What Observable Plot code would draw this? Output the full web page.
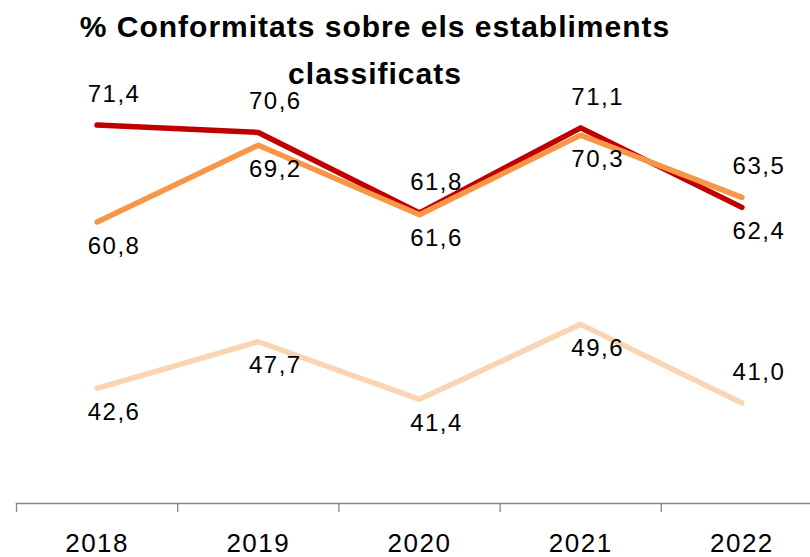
<!DOCTYPE html>
<html>
<head>
<meta charset="utf-8">
<script src="https://cdn.jsdelivr.net/npm/d3@7"></script>
<script src="https://cdn.jsdelivr.net/npm/@observablehq/plot@0.6"></script>
<style>
  html, body { margin: 0; padding: 0; background: #fff; overflow: hidden; }
  #wrap { position: relative; width: 810px; height: 557px; font-family: "Liberation Sans", Arial, sans-serif; }
  #title { position: absolute; left: 0; top: 4px; width: 750px; text-align: center; font-weight: bold; font-size: 30px; line-height: 46.5px; letter-spacing: 1px; color: #000; z-index: 2; }
  #chart { position: absolute; left: 0; top: 0; }
  #chart svg text { letter-spacing: 1.5px; }
</style>
</head>
<body>
<div id="wrap">
  <div id="chart"></div>
  <div id="title">% Conformitats sobre els establiments<br>classificats</div>
</div>
<script>
// ---- data ----
const years = [2018, 2019, 2020, 2021, 2022];
const tickBounds = [2017.5, 2018.5, 2019.5, 2020.5, 2021.5, 2022.5];
const seriesNames = ["Sèrie 1", "Sèrie 2", "Sèrie 3"];
const seriesColors = ["#C00000", "#F79646", "#FAD5B4"];
const valuesSerie1 = [71.4, 70.6, 61.8, 71.1, 62.4];
const valuesSerie2 = [60.8, 69.2, 61.6, 70.3, 63.5];
const valuesSerie3 = [42.6, 47.7, 41.4, 49.6, 41.0];
const labelSide1 = ["above", "above", "above", "above", "below"];
const labelSide2 = ["below", "below", "below", "below", "above"];
const labelSide3 = ["below", "below", "below", "below", "above"];
const yDomain = [30, 80];

// ---- table (drawing order: light, dark red, orange on top) ----
const seriesValues = [valuesSerie1, valuesSerie2, valuesSerie3];
const seriesSides = [labelSide1, labelSide2, labelSide3];
const drawOrder = [2, 0, 1];
const rows = [];
for (const s of drawOrder) {
  years.forEach((yr, i) => rows.push({year: yr, value: seriesValues[s][i], series: seriesNames[s], side: seriesSides[s][i]}));
}
const fmt = d => d.value.toFixed(1).replace(".", ",");

const chart = Plot.plot({
  width: 810,
  height: 557,
  marginLeft: 16,
  marginRight: -12,
  marginTop: 46,
  marginBottom: 54,
  style: {fontFamily: "'Liberation Sans', Arial, sans-serif", background: "#fff", color: "#000"},
  x: {domain: [tickBounds[0], tickBounds[tickBounds.length - 1]], label: null},
  y: {domain: yDomain, axis: null},
  color: {domain: seriesNames, range: seriesColors},
  marks: [
    Plot.frame({anchor: "bottom", stroke: "#868686", strokeWidth: 1.3}),
    Plot.axisX({ticks: tickBounds, tickSize: 9, tickFormat: () => "", stroke: "#868686", strokeWidth: 1.3, label: null}),
    Plot.axisX({ticks: years, tickSize: 0, tickPadding: 30, fontSize: 26, tickFormat: d => String(d), label: null}),
    Plot.line(rows, {x: "year", y: "value", z: "series", stroke: "series", strokeWidth: 5.5, strokeLinecap: "round", strokeLinejoin: "round"}),
    Plot.text(rows.filter(d => d.side === "above"), {x: "year", y: "value", text: fmt, dx: 17, dy: -31, fontSize: 24, fill: "#000"}),
    Plot.text(rows.filter(d => d.side === "below"), {x: "year", y: "value", text: fmt, dx: 17, dy: 24, fontSize: 24, fill: "#000"})
  ]
});
document.getElementById("chart").appendChild(chart);
</script>
</body>
</html>
